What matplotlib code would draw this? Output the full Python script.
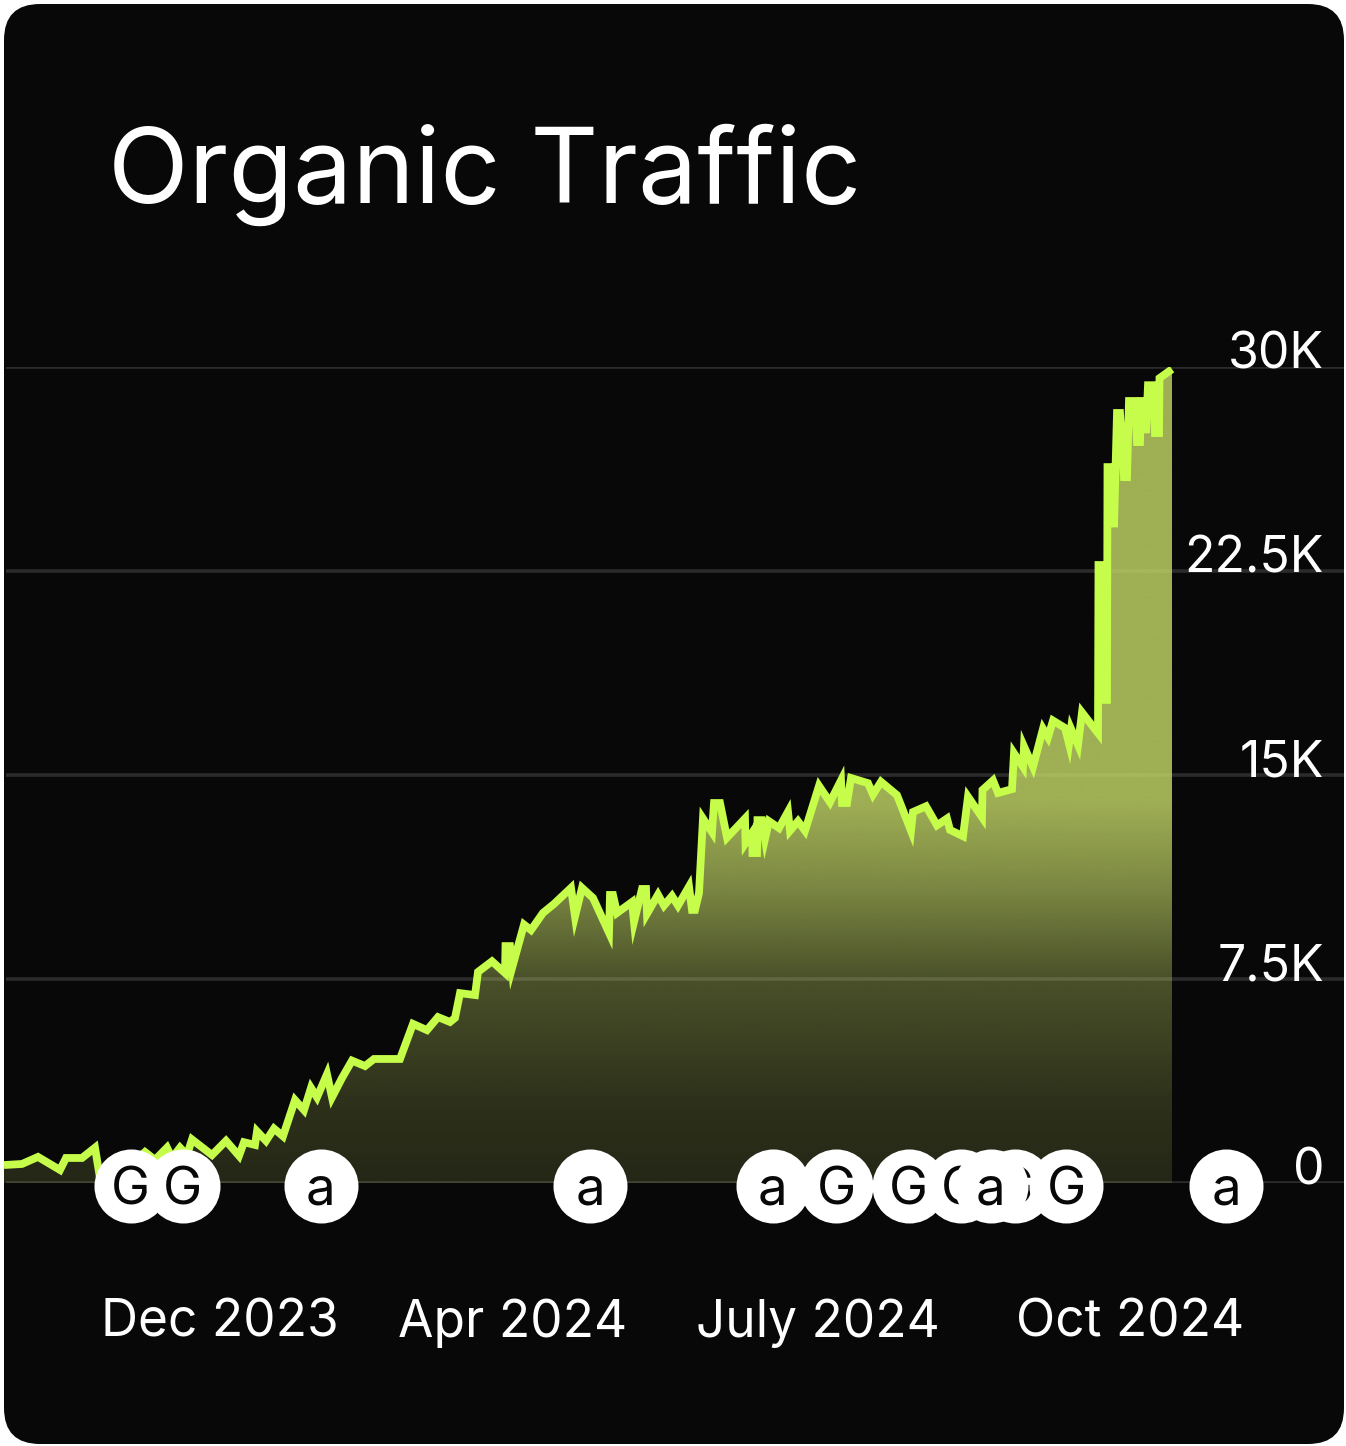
import numpy as np
import matplotlib
matplotlib.use("Agg")
import matplotlib.pyplot as plt
from matplotlib.patches import FancyBboxPatch

W, H = 1346, 1446
FONT = "Inter"
LINE = "#C6FD4A"
FILL = "#C6DA68"
CARD = "#080808"

# x position along the time axis, traffic in thousands
pos = [4, 22, 38, 60, 66, 82, 95, 100, 122, 145, 155, 167, 172, 180, 187, 192, 212, 226, 239, 244,
       255, 257, 266, 274, 283, 295, 304, 311, 317, 327, 332, 342, 352, 365, 374, 400, 413, 427, 438, 450,
       455, 460, 475, 478, 492, 505, 505.5, 510, 512, 524, 531, 543, 554, 571, 575, 582, 593, 609, 610, 613,
       617, 632, 634, 642, 646, 647, 658, 664, 672, 678, 689, 692, 695, 699, 703, 712, 714, 720, 727, 745,
       745.5, 752, 752.5, 757, 757.5, 762, 765, 769, 779, 788, 790, 798, 805, 819, 830, 841, 842, 847, 851, 868,
       873, 881, 897, 911, 913, 926, 937, 947, 950, 963, 968, 982, 982.5, 993, 998, 1012, 1014, 1023, 1024, 1033,
       1043, 1048, 1053, 1065, 1069, 1071, 1078, 1082, 1098, 1098.5, 1101, 1105, 1107, 1107.5, 1112, 1114, 1117, 1120, 1124, 1127,
       1129, 1135, 1137, 1140, 1141, 1144, 1146, 1148, 1153, 1155, 1159, 1159.5, 1172]
traffic = [0.66, 0.70, 0.96, 0.48, 0.92, 0.92, 1.30, 0.18, 0.40, 1.14, 0.85, 1.30, 0.92, 1.30, 1.03, 1.60, 1.03, 1.55, 1.00, 1.50,
           1.40, 1.90, 1.55, 2.00, 1.72, 3.05, 2.68, 3.50, 3.15, 4.00, 3.15, 3.86, 4.50, 4.30, 4.56, 4.56, 5.85, 5.62, 6.10, 5.92,
           6.07, 6.98, 6.91, 7.76, 8.15, 7.72, 8.71, 8.71, 7.90, 9.50, 9.30, 9.93, 10.26, 10.85, 9.80, 10.85, 10.48, 9.20, 10.59, 10.59,
           9.93, 10.33, 9.60, 10.81, 10.81, 9.90, 10.60, 10.20, 10.55, 10.20, 10.90, 10.04, 10.04, 10.66, 13.40, 12.90, 13.97, 13.97, 12.70, 13.40,
           12.50, 12.87, 12.13, 12.13, 13.34, 13.34, 12.65, 13.30, 13.05, 13.65, 12.95, 13.30, 12.95, 14.60, 14.00, 14.80, 13.97, 13.97, 14.89, 14.70,
           14.28, 14.75, 14.26, 12.95, 13.64, 13.85, 13.15, 13.40, 12.98, 12.75, 14.20, 13.45, 14.45, 14.80, 14.34, 14.48, 15.80, 15.30, 16.05, 15.30,
           16.70, 16.39, 17.00, 16.73, 16.15, 16.70, 16.10, 17.30, 16.54, 22.72, 22.72, 17.76, 17.76, 26.32, 26.32, 24.11, 28.31, 28.31, 25.95, 25.95,
           28.75, 28.75, 27.24, 27.24, 28.75, 28.75, 27.57, 29.33, 29.33, 27.57, 27.57, 29.59, 29.92]

y_ticks = [0, 7.5, 15, 22.5, 30]
y_labels = ["0", "7.5K", "15K", "22.5K", "30K"]
x_ticks = [220, 513, 818, 1130]
x_labels = ["Dec 2023", "Apr 2024", "July 2024", "Oct 2024"]

# drawn in this order, later ones cover earlier ones
badge_pos = [131, 183, 321, 590, 773, 836, 909, 961, 1015, 991, 1066, 1226]
badge_glyph = ["G", "G", "a", "a", "a", "G", "G", "G", "G", "a", "G", "a"]

fade_y = [0, 3, 7.5, 11, 14, 30]
fade_alpha = [0.15, 0.20, 0.35, 0.62, 0.80, 0.80]

fig = plt.figure(figsize=(W / 100, H / 100), dpi=100, facecolor="white")

bg = fig.add_axes([0, 0, 1, 1], zorder=0)
bg.set_xlim(0, W)
bg.set_ylim(H, 0)
bg.axis("off")
bg.add_patch(FancyBboxPatch((4 + 36, 4 + 36), 1340 - 72, 1440 - 72,
                            boxstyle="round,pad=36,rounding_size=36",
                            fc=CARD, ec="none"))
bg.text(108, 203, "Organic Traffic", color="white", fontsize=76, family=FONT, va="baseline")

# axes runs the full width, 0 at pixel row 1183 and 30K at row 367
ax = fig.add_axes([0, (H - 1183) / H, 1, 816 / H], zorder=1)
ax.patch.set_alpha(0)
for s in ax.spines.values():
    s.set_visible(False)

ax.hlines(y_ticks, 6, 1344, color="#2B2B2B", lw=2.6, zorder=1)

grad_y = np.linspace(30, 0, 400)
rgba = np.zeros((400, 1, 4))
rgba[:, 0, :3] = matplotlib.colors.to_rgb(FILL)
rgba[:, 0, 3] = np.interp(grad_y, fade_y, fade_alpha)
im = ax.imshow(rgba, extent=(pos[0], pos[-1], 0, 30), aspect="auto", zorder=2, interpolation="bilinear")
poly = ax.fill_between(pos, traffic, 0, color="none")
im.set_clip_path(poly.get_paths()[0], ax.transData)
poly.remove()

ax.plot(pos, traffic, color=LINE, lw=5.6, solid_joinstyle="miter", solid_capstyle="butt", zorder=3)

ax.set_xlim(0, W)
ax.set_ylim(0, 30)
ax.set_yticks([])
ax.set_xticks(x_ticks, x_labels, fontsize=37, color="white", family=FONT)
ax.tick_params(axis="x", length=0, pad=83)

for v, lab in zip(y_ticks, y_labels):
    ax.text(1324, v - 0.44, lab, color="white", fontsize=36, family=FONT, ha="right", va="bottom")

badge_y = -0.11
for i, (x, g) in enumerate(zip(badge_pos, badge_glyph)):
    ax.scatter([x], [badge_y], s=2840, color="white", lw=0, zorder=5 + 2 * i, clip_on=False)
    ax.text(x, badge_y, g, color=CARD, fontsize=38, family=FONT, ha="center", va="center_baseline",
            zorder=6 + 2 * i, clip_on=False)

fig.savefig("out.png", dpi=100, facecolor="white")
